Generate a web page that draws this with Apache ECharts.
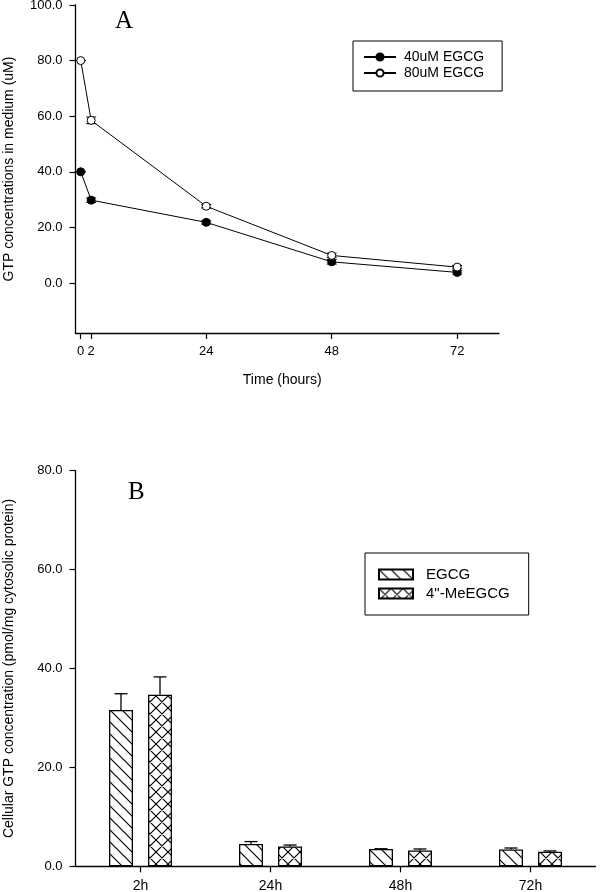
<!DOCTYPE html>
<html>
<head>
<meta charset="utf-8">
<script src="https://cdn.jsdelivr.net/npm/echarts@6/dist/echarts.min.js"></script>
<style>html,body{margin:0;padding:0;background:#fff}#c{width:608px;height:892px}</style>
</head>
<body>
<div id="c"></div>
<script>
// ---- Panel A data ----
const timeHours = [0, 2, 24, 48, 72];
const egcg40 = [40.0, 29.8, 21.8, 7.6, 3.8];
const egcg40Err = [0, 0.8, 0.6, 0.8, 0.6];
const egcg80 = [80.0, 58.5, 27.6, 9.9, 5.7];
const egcg80Err = [0, 1.2, 0.6, 0.8, 0.6];
const xTicksA = [0, 2, 24, 48, 72];
const yTicksA = [0, 20, 40, 60, 80, 100];

// ---- Panel B data ----
const timeCats = ['2h', '24h', '48h', '72h'];
const egcgCell = [31.6, 4.5, 3.5, 3.4];
const egcgCellErr = [3.3, 0.5, 0.05, 0.3];
const meCell = [34.7, 4.0, 3.2, 2.95];
const meCellErr = [3.6, 0.3, 0.3, 0.15];

const FONT = "'Liberation Sans', Arial, sans-serif";

function makePattern(cross) {
  const s = 12;
  const c = document.createElement('canvas');
  c.width = s; c.height = s;
  const g = c.getContext('2d');
  g.fillStyle = '#fff'; g.fillRect(0, 0, s, s);
  g.strokeStyle = '#000'; g.lineWidth = 1.2;
  g.beginPath();
  g.moveTo(-2, -2); g.lineTo(s + 2, s + 2);
  g.moveTo(-2, s - 2); g.lineTo(2, s + 2);
  g.moveTo(s - 2, -2); g.lineTo(s + 2, 2);
  if (cross) {
    g.moveTo(s + 2, -2); g.lineTo(-2, s + 2);
    g.moveTo(2, -2); g.lineTo(-2, 2);
    g.moveTo(s + 2, s - 2); g.lineTo(s - 2, s + 2);
  }
  g.stroke();
  return { image: c, repeat: 'repeat' };
}

const chart = echarts.init(document.getElementById('c'), null, { renderer: 'canvas' });

function errA(xs, ys, es) {
  return xs.map((x, i) => [x, ys[i] - es[i], ys[i] + es[i]]);
}

function renderErrA(params, api) {
  const lo = api.coord([api.value(0), api.value(1)]);
  const hi = api.coord([api.value(0), api.value(2)]);
  const w = 5;
  const st = { stroke: '#000', lineWidth: 1 };
  return { type: 'group', children: [
    { type: 'line', shape: { x1: lo[0], y1: lo[1], x2: hi[0], y2: hi[1] }, style: st },
    { type: 'line', shape: { x1: lo[0] - w, y1: lo[1], x2: lo[0] + w, y2: lo[1] }, style: st },
    { type: 'line', shape: { x1: hi[0] - w, y1: hi[1], x2: hi[0] + w, y2: hi[1] }, style: st }
  ]};
}

function renderErrB(offset) {
  return function (params, api) {
    const base = api.coord([api.value(0), api.value(1)]);
    const top = api.coord([api.value(0), api.value(1) + api.value(2)]);
    const x = base[0] + offset;
    const w = 6.5;
    const st = { stroke: '#000', lineWidth: 1.3 };
    return { type: 'group', children: [
      { type: 'line', shape: { x1: x, y1: base[1], x2: x, y2: top[1] }, style: st },
      { type: 'line', shape: { x1: x - w, y1: top[1], x2: x + w, y2: top[1] }, style: st }
    ]};
  };
}

const axisLineStyle = { onZero: false, lineStyle: { color: '#000', width: 1.3 } };
const tickStyle = { show: true, length: 6, inside: false, lineStyle: { color: '#000', width: 1.2 } };

const option = {
  animation: false,
  backgroundColor: '#fff',
  textStyle: { fontFamily: FONT },
  grid: [
    { left: 75.5, top: 5, width: 423.5, height: 328, containLabel: false, outerBoundsMode: 'none' },
    { left: 75.5, top: 470.7, width: 520, height: 395.6, containLabel: false, outerBoundsMode: 'none' }
  ],
  xAxis: [
    {
      gridIndex: 0, type: 'value', min: -1, max: 80,
      axisLine: axisLineStyle,
      axisTick: Object.assign({}, tickStyle, { customValues: xTicksA }),
      axisLabel: { customValues: xTicksA, color: '#000', fontSize: 13, margin: 12, fontFamily: FONT },
      splitLine: { show: false },
      name: 'Time (hours)', nameLocation: 'middle', nameGap: 40,
      nameTextStyle: { color: '#000', fontSize: 14, fontFamily: FONT, padding: [0, 10, 0, 0] }
    },
    {
      gridIndex: 1, type: 'category', data: timeCats, boundaryGap: true,
      axisLine: axisLineStyle,
      axisTick: Object.assign({}, tickStyle, { alignWithLabel: true }),
      axisLabel: { color: '#000', fontSize: 14, margin: 13, fontFamily: FONT },
      splitLine: { show: false }
    }
  ],
  yAxis: [
    {
      gridIndex: 0, type: 'value', min: -18, max: 100,
      axisLine: Object.assign({ show: true }, axisLineStyle),
      axisTick: Object.assign({}, tickStyle, { customValues: yTicksA }),
      axisLabel: { customValues: yTicksA, color: '#000', fontSize: 13, margin: 13, fontFamily: FONT,
        formatter: v => v.toFixed(1) },
      splitLine: { show: false },
      name: 'GTP concentrations in medium (uM)', nameLocation: 'middle', nameGap: 59,
      nameTextStyle: { color: '#000', fontSize: 14, fontFamily: FONT }
    },
    {
      gridIndex: 1, type: 'value', min: 0, max: 80, interval: 20,
      axisLine: Object.assign({ show: true }, axisLineStyle),
      axisTick: tickStyle,
      axisLabel: { color: '#000', fontSize: 13, margin: 13, fontFamily: FONT,
        formatter: v => v.toFixed(1) },
      splitLine: { show: false },
      name: 'Cellular GTP concentration (pmol/mg cytosolic protein)', nameLocation: 'middle', nameGap: 59,
      nameTextStyle: { color: '#000', fontSize: 14, fontFamily: FONT }
    }
  ],
  legend: [
    {
      data: ['40uM EGCG', '80uM EGCG'],
      left: 353, top: 41, orient: 'vertical',
      padding: [9, 18, 11, 10], itemGap: 2,
      itemWidth: 32, itemHeight: 9,
      borderColor: '#000', borderWidth: 1,
      textStyle: { color: '#000', fontSize: 14, fontFamily: FONT, lineHeight: 14, padding: [0, 0, 0, 3] }
    },
    {
      data: [{ name: 'EGCG', icon: 'rect' }, { name: '4"-MeEGCG', icon: 'rect' }],
      left: 365, top: 553, orient: 'vertical',
      padding: [14, 19, 14, 13], itemGap: 4,
      itemWidth: 34, itemHeight: 10,
      borderColor: '#000', borderWidth: 1,
      textStyle: { color: '#000', fontSize: 15, fontFamily: FONT, lineHeight: 15, padding: [0, 0, 0, 8] }
    }
  ],
  graphic: [
    { type: 'text', left: 115, top: 9, style: { text: 'A', font: "25px 'Liberation Serif', 'Times New Roman', serif", fill: '#000' } },
    { type: 'text', left: 128, top: 480, style: { text: 'B', font: "25px 'Liberation Serif', 'Times New Roman', serif", fill: '#000' } }
  ],
  series: [
    {
      type: 'custom', xAxisIndex: 0, yAxisIndex: 0, z: 1,
      renderItem: renderErrA, data: errA(timeHours, egcg40, egcg40Err)
    },
    {
      type: 'custom', xAxisIndex: 0, yAxisIndex: 0, z: 1,
      renderItem: renderErrA, data: errA(timeHours, egcg80, egcg80Err)
    },
    {
      name: '40uM EGCG', type: 'line', xAxisIndex: 0, yAxisIndex: 0, z: 3,
      data: timeHours.map((t, i) => [t, egcg40[i]]),
      symbol: 'circle', symbolSize: 8,
      lineStyle: { color: '#000', width: 1 },
      itemStyle: { color: '#000', borderColor: '#000', borderWidth: 1 }
    },
    {
      name: '80uM EGCG', type: 'line', xAxisIndex: 0, yAxisIndex: 0, z: 3,
      data: timeHours.map((t, i) => [t, egcg80[i]]),
      symbol: 'circle', symbolSize: 8,
      lineStyle: { color: '#000', width: 1 },
      itemStyle: { color: '#fff', borderColor: '#000', borderWidth: 1 }
    },
    {
      name: 'EGCG', type: 'bar', xAxisIndex: 1, yAxisIndex: 1,
      data: egcgCell, barWidth: 24, barGap: '62.5%',
      itemStyle: { color: makePattern(false), borderColor: '#000', borderWidth: 1.3 }
    },
    {
      name: '4"-MeEGCG', type: 'bar', xAxisIndex: 1, yAxisIndex: 1,
      data: meCell, barWidth: 24, barGap: '62.5%',
      itemStyle: { color: makePattern(true), borderColor: '#000', borderWidth: 1.3 }
    },
    {
      type: 'custom', xAxisIndex: 1, yAxisIndex: 1, z: 5,
      renderItem: renderErrB(-19.5),
      data: egcgCell.map((v, i) => [i, v, egcgCellErr[i]])
    },
    {
      type: 'custom', xAxisIndex: 1, yAxisIndex: 1, z: 5,
      renderItem: renderErrB(19.5),
      data: meCell.map((v, i) => [i, v, meCellErr[i]])
    }
  ]
};
chart.setOption(option);
</script>
</body>
</html>
